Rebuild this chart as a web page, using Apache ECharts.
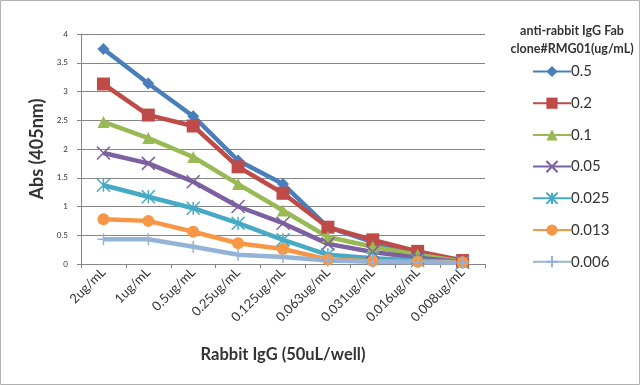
<!DOCTYPE html>
<html><head><meta charset="utf-8">
<script src="https://cdn.jsdelivr.net/npm/echarts@6/dist/echarts.min.js"></script>
<style>html,body{margin:0;padding:0;background:#fff}#c{width:640px;height:385px}</style>
</head><body><div id="c"></div>
<script>
var categories = ['2ug/mL','1ug/mL','0.5ug/mL','0.25ug/mL','0.125ug/mL','0.063ug/mL','0.031ug/mL','0.016ug/mL','0.008ug/mL'];
var seriesNames = ['0.5','0.2','0.1','0.05','0.025','0.013','0.006'];
var s05   = [3.74, 3.14, 2.57, 1.80, 1.39, 0.64, 0.38, 0.20, 0.05];
var s02   = [3.13, 2.59, 2.40, 1.69, 1.23, 0.64, 0.42, 0.22, 0.06];
var s01   = [2.47, 2.19, 1.86, 1.39, 0.93, 0.47, 0.30, 0.16, 0.04];
var s005  = [1.93, 1.75, 1.43, 1.00, 0.71, 0.35, 0.21, 0.11, 0.03];
var s0025 = [1.37, 1.17, 0.97, 0.71, 0.42, 0.16, 0.10, 0.06, 0.03];
var s0013 = [0.78, 0.75, 0.56, 0.36, 0.26, 0.08, 0.05, 0.04, 0.03];
var s0006 = [0.43, 0.43, 0.30, 0.16, 0.12, 0.06, 0.04, 0.03, 0.02];
var yTicks = ['0','0.5','1','1.5','2','2.5','3','3.5','4'];

var data = [s05, s02, s01, s005, s0025, s0013, s0006];
var colors = ['#4a7ebb','#be4b48','#98b954','#7d60a0','#46aac5','#f79646','#95b3d7'];
var symbols = ['diamond','rect','triangle',
  'path://M0,0L10,10M10,0L0,10',
  'path://M0,0L10,10M10,0L0,10M5,0L5,10',
  'circle',
  'path://M5,0L5,10M0,5L10,5'];
var sizes = [12, 13, 12, 13, 13, 12, 12];
var stroked = [false,false,false,true,true,false,true];

var series = data.map(function(d,i){
  return {
    name: seriesNames[i], type:'line', data:d,
    symbol: symbols[i], symbolSize: sizes[i], showSymbol:true,
    lineStyle:{width:4.5,color:colors[i]},
    itemStyle: stroked[i] ? {color:colors[i], borderColor:colors[i], borderWidth:1.5} : {color:colors[i], borderWidth:0},
    emphasis:{disabled:true}, animation:false
  };
});

var chart = echarts.init(document.getElementById('c'));
chart.setOption({
  animation:false,
  textStyle:{fontFamily:'Lato'},
  title:{text:'anti-rabbit IgG Fab\nclone#RMG01(ug/mL)', left:567, top:17, textAlign:'center',
    textStyle:{fontSize:12.5, fontWeight:'bold', color:'#333', lineHeight:18, fontFamily:'Lato'}},
  legend:{orient:'vertical', left:527, top:59, itemGap:16.7, itemWidth:38, itemHeight:14,
    textStyle:{fontSize:15, color:'#333', padding:[0,0,0,-5]}, data:seriesNames},
  grid:{left:81, right:155, top:34, bottom:121},
  xAxis:{type:'category', data:categories, boundaryGap:true,
    name:'Rabbit IgG (50uL/well)', nameLocation:'middle', nameGap:82,
    nameTextStyle:{fontSize:16.5, fontWeight:'bold', color:'#333'},
    axisLine:{lineStyle:{color:'#868686'}},
    axisTick:{show:true, alignWithLabel:false, length:4, lineStyle:{color:'#868686'}},
    axisLabel:{rotate:45, fontSize:13, color:'#333', margin:6, interval:0}},
  yAxis:{type:'value', min:0, max:4, interval:0.5,
    name:'Abs (405nm)', nameLocation:'middle', nameGap:33,
    nameTextStyle:{fontSize:18, fontWeight:'bold', color:'#333'},
    axisLine:{show:true, lineStyle:{color:'#868686'}},
    axisTick:{show:true, length:4, lineStyle:{color:'#868686'}},
    splitLine:{lineStyle:{color:'#868686', width:1}},
    axisLabel:{fontSize:8, color:'#333', margin:13, formatter:function(v){var i=Math.round(v/0.5);return yTicks[i];}}},
  graphic:[{type:'rect', shape:{x:0.5,y:0.5,width:639,height:384}, style:{fill:null, stroke:'#b0b0b0', lineWidth:1}, silent:true}],
  series: series
});
</script></body></html>
